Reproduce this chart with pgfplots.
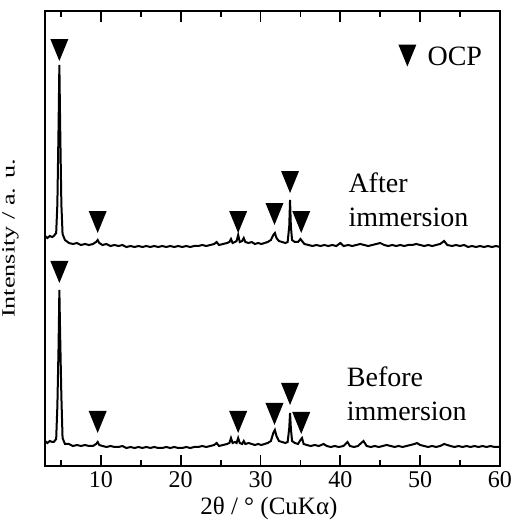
\documentclass[border=0pt]{standalone}
\usepackage{fontspec}
\setmainfont{Liberation Serif}
\usepackage{graphicx}
\usepackage{pgfplots}
\pgfplotsset{compat=1.18}
\pgfdeclareplotmark{dtri}{%
  \pgfpathmoveto{\pgfqpoint{0pt}{-11pt}}%
  \pgfpathlineto{\pgfqpoint{-9pt}{11pt}}%
  \pgfpathlineto{\pgfqpoint{9pt}{11pt}}%
  \pgfpathclose\pgfusepathqfill}
\newcommand{\tickfont}{\fontsize{24}{28}\selectfont}
\newcommand{\labfont}{\fontsize{25}{30}\selectfont}
\newcommand{\bigfont}{\fontsize{28}{34}\selectfont}
\begin{document}
\begin{tikzpicture}
\begin{axis}[
  scale only axis, width=455pt, height=455pt,
  xmin=3, xmax=60, ymin=0, ymax=455,
  axis line style={line width=2pt},
  xtick={10,20,30,40,50,60}, minor xtick={5,15,25,35,45,55},
  ytick=\empty,
  tick align=inside, xtick pos=both,
  major tick length=11pt, minor tick length=5.5pt,
  every tick/.style={line width=1.8pt, black},
  /pgf/number format/assume math mode=true,
  xticklabel={\tickfont\pgfmathprintnumber{\tick}},
  xticklabel style={inner sep=0pt, yshift=-5pt},
  xlabel={\labfont 2θ / ° (CuKα)},
  ylabel={\scalebox{1.05}[0.75]{\labfont Intensity / a. u.}},
  xlabel style={at={(axis description cs:0.492,-0.0923)}, anchor=center, inner sep=0pt},
  ylabel style={at={(axis description cs:-0.0758,0.5)}, anchor=center, inner sep=0pt},
  clip=false,
]
% after immersion
\addplot[black, line width=2pt] coordinates {
(3.0,230)(3.3,228)(3.6,230)(3.9,229)(4.1,230)(4.4,233)(4.55,262)(4.7,340)(4.8,401)(4.9,340)(5.05,262)(5.2,232)
(5.5,226)(6.0,223)(6.5,222)(7.0,223)(7.5,221)(8.0,222)(8.5,221)(9.0,222)(9.4,224)(9.6,226)(9.8,223)
(10.2,221)(10.7,222)(11.2,220)(11.7,221)(12.2,220)(12.7,221)(13.2,219)(13.7,220)(14.2,219)(14.7,220)
(15.2,219)(15.7,220)(16.2,219)(16.7,220)(17.2,219)(17.7,220)(18.2,219)(18.7,220)(19.2,219)(19.7,220)
(20.2,219)(20.7,220)(21.2,219)(21.7,220)(22.2,220)(22.7,221)(23.2,220)(23.7,221)(24.2,222)(24.5,224)
(24.8,221)(25.3,222)(25.8,223)(26.1,224)(26.3,227)(26.5,223)(26.8,224)(27.0,225)(27.2,231)(27.4,224)
(27.7,225)(27.9,228)(28.1,224)(28.5,223)(28.9,224)(29.3,222)(29.7,223)(30.1,222)(30.5,223)(30.9,224)
(31.3,226)(31.6,231)(31.8,233)(32.0,228)(32.3,225)(32.7,224)(33.1,223)(33.4,224)(33.6,240)(33.7,266)
(33.8,240)(33.95,226)(34.3,224)(34.7,224)(35.0,227)(35.2,225)(35.5,222)(36.0,221)(36.5,220)(37.0,221)
(37.5,220)(38.0,221)(38.5,220)(39.0,221)(39.5,220)(40.0,223)(40.4,220)(41.0,221)(41.5,220)(42.0,221)
(42.5,222)(43.0,221)(43.5,220)(44.0,221)(44.5,222)(45.0,223)(45.5,221)(46.0,220)(46.5,221)(47.0,220)
(47.5,221)(48.0,220)(48.5,221)(49.0,221)(49.5,222)(50.0,221)(50.5,220)(51.0,221)(51.5,220)(52.0,221)
(52.5,222)(53.0,225)(53.4,221)(54.0,220)(54.5,221)(55.0,220)(55.5,221)(56.0,219)(56.5,220)(57.0,219)
(57.5,220)(58.0,219)(58.5,220)(59.0,219)(59.5,220)(60,219)
};
% before immersion
\addplot[black, line width=2pt] coordinates {
(3.0,25)(3.3,23)(3.6,25)(3.9,24)(4.1,24)(4.4,27)(4.55,60)(4.7,120)(4.8,176)(4.9,130)(5.05,70)(5.2,28)
(5.5,22)(6.0,22)(6.5,20)(7.0,21)(7.5,20)(8.0,21)(8.5,20)(9.0,20)(9.4,22)(9.6,24)(9.8,21)(10.2,20)
(10.7,19)(11.2,20)(11.7,19)(12.2,19)(12.7,20)(13.2,18)(13.7,19)(14.2,18)(14.7,19)(15.2,18)(15.7,19)
(16.2,18)(16.7,19)(17.2,18)(17.7,18)(18.2,19)(18.7,18)(19.2,19)(19.7,18)(20.2,18)(20.7,19)(21.2,18)
(21.7,19)(22.2,19)(22.7,20)(23.2,19)(23.7,20)(24.2,21)(24.5,23)(24.8,20)(25.3,21)(25.8,22)(26.1,23)
(26.3,28)(26.5,23)(26.8,24)(27.0,23)(27.2,28)(27.4,23)(27.7,22)(27.9,25)(28.1,22)(28.5,23)(28.9,22)
(29.3,21)(29.7,22)(30.1,21)(30.5,22)(30.9,23)(31.3,25)(31.6,33)(31.8,36)(32.0,30)(32.3,25)(32.7,24)
(33.1,23)(33.4,24)(33.6,38)(33.7,53)(33.8,38)(33.95,25)(34.3,23)(34.7,22)(35.0,26)(35.2,28)(35.4,22)
(35.8,21)(36.3,20)(36.8,21)(37.3,20)(37.9,22)(38.3,20)(38.8,19)(39.3,20)(39.8,19)(40.4,20)(40.9,24)
(41.2,20)(41.7,19)(42.2,20)(42.9,25)(43.3,20)(43.8,19)(44.3,20)(44.8,19)(45.3,20)(45.8,21)(46.3,20)
(46.8,19)(47.3,20)(47.8,19)(48.3,20)(48.8,21)(49.3,22)(49.6,23)(50.0,21)(50.5,20)(51.0,19)(51.5,20)
(52.0,19)(52.5,20)(53.0,22)(53.4,21)(53.8,20)(54.3,19)(54.8,20)(55.3,19)(55.8,20)(56.3,19)(56.8,20)
(57.3,19)(57.8,20)(58.3,19)(58.8,20)(59.3,19)(60,19)
};
% OCP peak markers
\addplot[only marks, mark=dtri, black] coordinates {
(4.8,416)(9.6,244)(27.2,244)(31.75,252)(33.7,284)(35.1,244)
(4.8,194)(9.6,44)(27.2,44)(31.75,52)(33.7,72)(35.1,43)
(48.4,410.5)
};
\node[anchor=west, inner sep=0pt, font=\bigfont] at (axis cs:50.9,410) {OCP};
\node[anchor=west, inner sep=0pt, align=left, font=\bigfont] at (axis cs:41.0,266) {After\\immersion};
\node[anchor=west, inner sep=0pt, align=left, font=\bigfont] at (axis cs:40.8,72) {Before\\immersion};
\path (rel axis cs:-0.0989,-0.1209) rectangle (rel axis cs:1.022,1.0242);
\end{axis}
\end{tikzpicture}
\end{document}
